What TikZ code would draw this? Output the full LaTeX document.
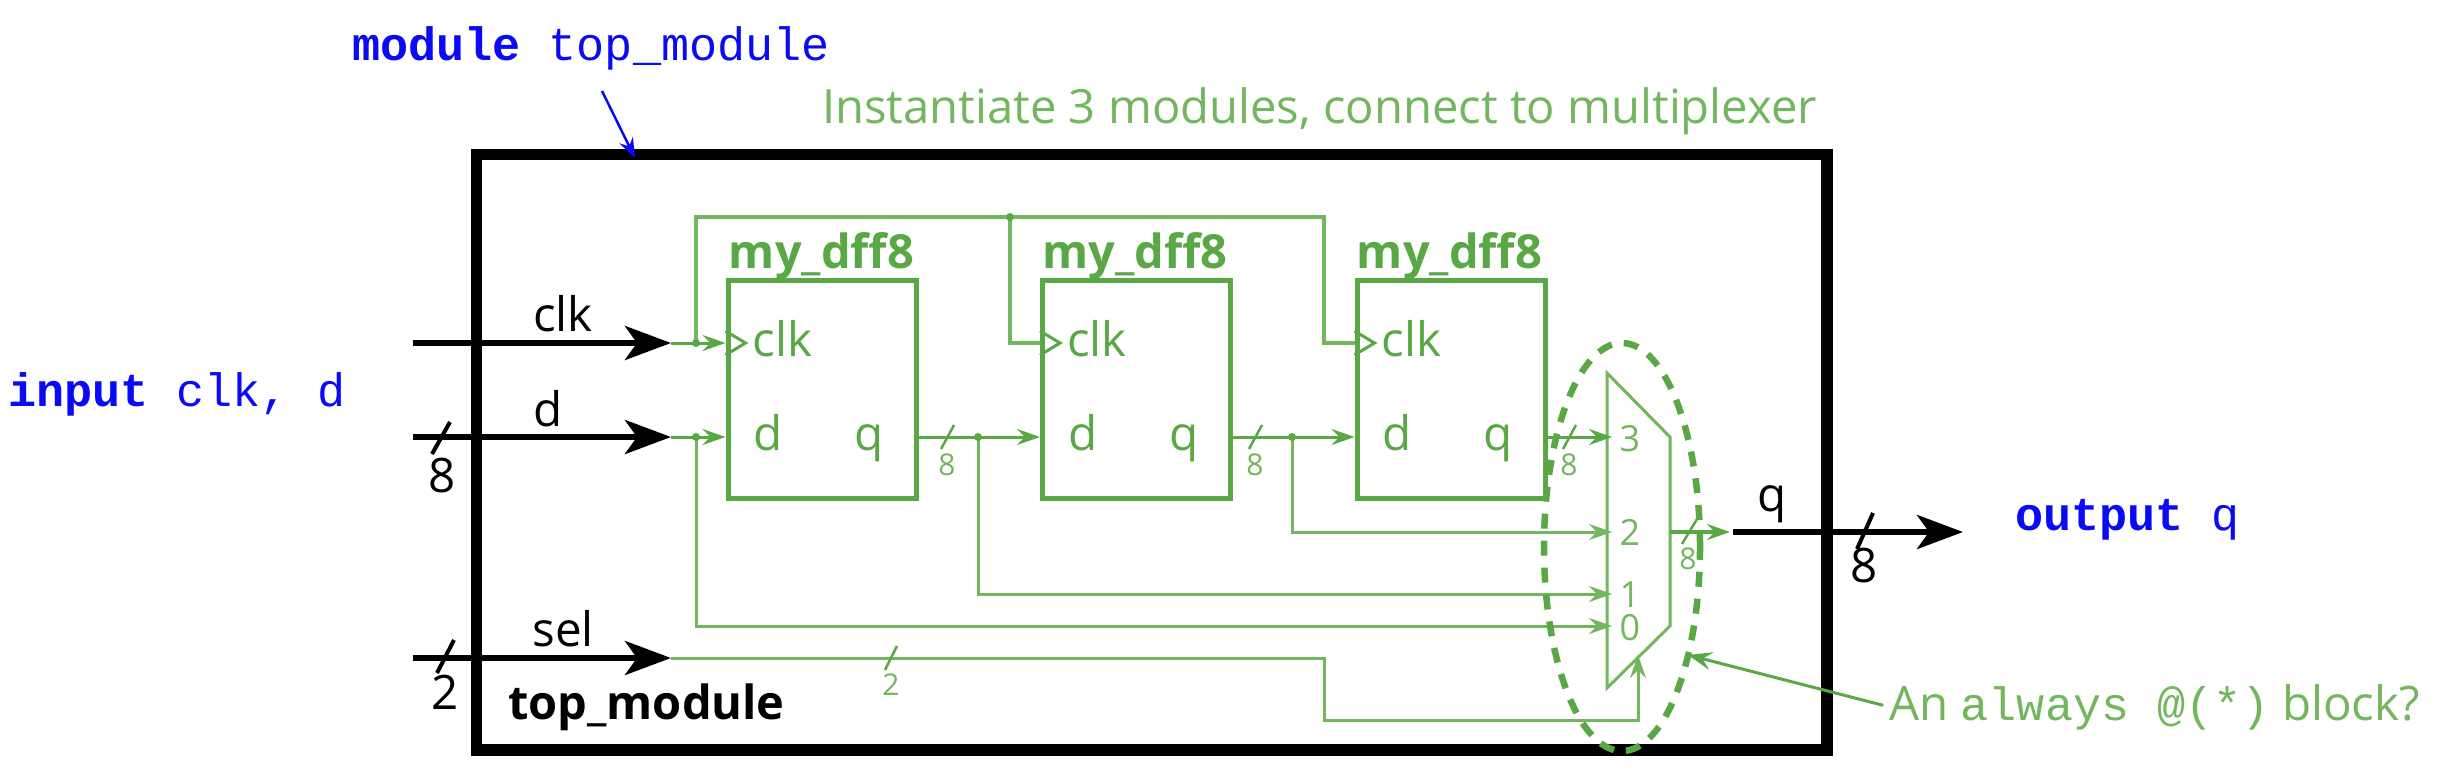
\documentclass[tikz,border=0pt]{standalone}
\usepackage{fontspec}
\setmainfont{Open Sans}
\newfontfamily\codefont{Liberation Mono}
\usetikzlibrary{arrows.meta,shapes.geometric}
\definecolor{gr}{HTML}{5AA845}
\definecolor{grl}{HTML}{72B65E}
\definecolor{bl}{HTML}{0A0AF5}
\newcommand{\fs}[1]{\fontsize{#1}{#1}\selectfont}
\tikzset{
 x=1pt,y=-1pt,
 thickar/.style={black,line width=6pt,-{Stealth[length=46pt,width=34pt,inset=12pt]}},
 thinar/.style={gr,line width=3pt,-{Stealth[length=23pt,width=16pt,inset=8pt]}},
 wirepl/.style={grl,line width=3.5pt},
 dffbox/.style={draw=gr,line width=5pt,minimum width=188pt,minimum height=218pt,inner sep=0pt},
 ttl/.style={text=gr,font=\fs{47}\bfseries,inner sep=0pt,anchor=base},
 glab/.style={text=gr,font=\fs{47.5},inner sep=0pt,anchor=base},
 blab/.style={text=black,font=\fs{47.5},inner sep=0pt,anchor=base},
 sglab/.style={text=grl,font=\fs{30},inner sep=0pt},
 code/.style={text=bl,font=\fs{46.8}\codefont,inner sep=0pt,anchor=base west},
 dotj/.style={circle,fill=gr,inner sep=0pt,minimum size=8pt},
 slashk/.style={black,line width=4pt},
 slashg/.style={gr,line width=2.5pt},
}
\begin{document}
\begin{tikzpicture}
\useasboundingbox (0,0) rectangle (2456,771);
\fill[white] (0,0) rectangle (2456,771);
% titles
\node[code] (tmod) at (352,60) {\textbf{module} top\_module};
\node[code] (tin) at (8,406) {\textbf{input} clk, d};
\node[code] (tout) at (2015,530) {\textbf{output} q};
\node[glab,font=\fs{47.2},anchor=base west,text=grl] (tinst) at (822,123) {Instantiate 3 modules, connect to multiplexer};
% outer box
\node[draw=black,line width=11.5pt,minimum width=1350.5pt,minimum height=595.5pt,inner sep=0pt] (top) at (1151.75,452) {};
\coordinate (tmodar) at (602,91);
\coordinate (tmodtip) at (635,158);
\draw[bl,line width=2.5pt,-{Stealth[length=20pt,width=15pt,inset=7pt]}] (tmodar) -- (tmodtip);
\node[blab,font=\fs{47}\bfseries,anchor=base west] (ttop) at (508,719) {top\_module};
% flip-flops
\node[dffbox] (ff1) at (822,389) {};
\node[dffbox] (ff2) at (1136.5,389) {};
\node[dffbox] (ff3) at (1451,389) {};
\node[ttl] (n1) at (821.5,268) {my\_dff8};
\node[ttl] (n2) at (1135,268) {my\_dff8};
\node[ttl] (n3) at (1449.5,268) {my\_dff8};
\foreach \i in {1,2,3}{
 \coordinate (ck\i) at (ff\i.west |- 0,343);
 \coordinate (dd\i) at (ff\i.west |- 0,437);
 \coordinate (qq\i) at (ff\i.east |- 0,437);
 \draw[gr,line width=3pt] ([yshift=12pt]ck\i) -- ([xshift=20pt]ck\i) -- ([yshift=-12pt]ck\i);
 \node[glab,anchor=base west] (lc\i) at ([xshift=27pt,yshift=-13pt]ck\i) {clk};
 \node[glab] (ld\i) at ([xshift=43pt,yshift=-13pt]dd\i) {d};
 \node[glab] (lq\i) at ([xshift=-49pt,yshift=-13pt]qq\i) {q};
}
% mux
\coordinate (m3) at (1612,437);
\coordinate (m2) at (1612,532);
\coordinate (m1) at (1612,594);
\coordinate (m0) at (1612,626);
\coordinate (mo) at (1670,532);
\draw[grl,line width=3pt] (1607,373) -- (1670,437) -- (1670,626) -- (1607,688) -- cycle;
\foreach \n/\y in {3/451,2/545,1/607,0/640}{\node[glab,font=\fs{36},text=grl] (mn\n) at (1630,\y) {\n};}
% inputs
\coordinate (clki) at (413,343);
\coordinate (di) at (413,437);
\coordinate (seli) at (413,658);
\coordinate (clke) at (671,343);
\coordinate (de) at (671,437);
\coordinate (sele) at (671,658);
\draw[thickar] (clki) -- (clke);
\draw[thickar] (di) -- (de);
\draw[thickar] (seli) -- (sele);
\node[blab] (lclk) at (563,331) {clk};
\node[blab] (ld) at (548,426) {d};
\node[blab] (lsel) at (563,646) {sel};
\draw[slashk] (432,454) -- (450,422);
\draw[slashk] (437,673) -- (454,640);
\node[blab] (l8) at (442,492) {8};
\node[blab] (l2) at (445,709) {2};
% clk/d wires
\coordinate (j1) at (696,343);
\coordinate (j2) at (696,437);
\coordinate (tj) at (1010,217);
\draw[gr,line width=3pt] (clke) -- (j1);
\draw[gr,line width=3pt] (de) -- (j2);
\draw[thinar] (j1) -- (ck1);
\draw[thinar] (j2) -- (dd1);
\draw[wirepl] (j1) -- (696,217) -- (tj) -- (1324,217) -- (1324,343) -- (ck3);
\draw[wirepl] (tj) -- (1010,343) -- (ck2);
\draw[thinar,grl] (j2) -- (696,626) -- (m0);
\node[dotj] (dj1) at (j1) {};
\node[dotj] (dj2) at (j2) {};
\node[dotj] (dj3) at (tj) {};
% q wires
\coordinate (q1j) at (978,437);
\coordinate (q2j) at (1292,437);
\draw[thinar] (qq1) -- (dd2);
\draw[thinar] (qq2) -- (dd3);
\draw[thinar] (qq3) -- (m3);
\draw[thinar,grl] (q1j) -- (978,594) -- (m1);
\draw[thinar,grl] (q2j) -- (1292,532) -- (m2);
\node[dotj] (dj4) at (q1j) {};
\node[dotj] (dj5) at (q2j) {};
\foreach \x/\i in {947/a,1255/b,1569/c}{
 \draw[slashg] (\x-6,449) -- (\x+7,425);
 \node[sglab] (s\i) at (\x,465) {8};
}
% select
\coordinate (sb) at (1638,720);
\coordinate (st) at (1638,655);
\draw[thinar,grl] (sele) -- (1324,658) -- (1324,720) -- (sb) -- (st);
\draw[slashg] (885,670) -- (897,646);
\node[sglab] (s2) at (891,685) {2};
% output
\coordinate (oe) at (1730,532);
\draw[thinar,line width=3.5pt] (mo) -- (oe);
\draw[slashg] (1682,544) -- (1697,519);
\node[sglab] (so) at (1688,559) {8};
\coordinate (oo) at (1963,532);
\coordinate (os) at (1733,532);
\draw[thickar] (os) -- (oo);
\draw[slashk] (1857,549) -- (1873,513);
\node[blab] (l8o) at (1864,582) {8};
\node[blab] (lq) at (1772,511) {q};
% ellipse
\node[ellipse,draw=gr,line width=6.5pt,dash pattern=on 15pt off 12pt,minimum width=156pt,minimum height=408pt,inner sep=0pt] (al) at (1622,547) {};
% annotation
\node[glab,anchor=base west,text=grl] (tal) at (1889,720) {An {\codefont\fontsize{46.8}{46.8}\selectfont always @(*)} block?};
\coordinate (altip) at (1688,655);
\draw[gr,line width=3pt,shorten <=6pt,-{Stealth[length=24pt,width=18pt,inset=9pt]}] (tal.west) -- (altip);
\end{tikzpicture}
\end{document}
